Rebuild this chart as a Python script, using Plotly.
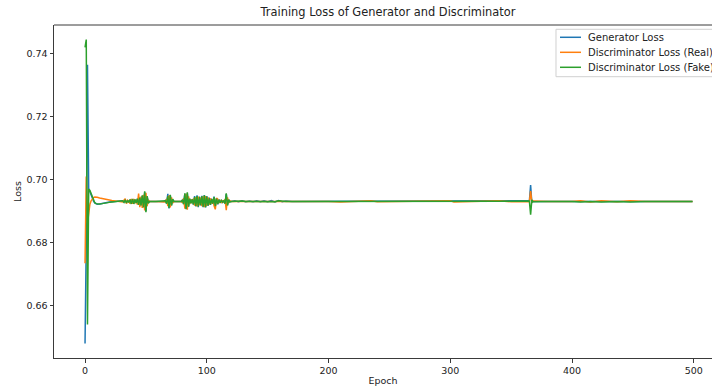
import plotly.graph_objects as go

# ---------------- data ----------------
# segment 1: warm-up (epochs 0-28)
epochs_warm = [0, 1, 2, 3, 4, 5, 6, 7, 8, 9, 10, 12, 14, 16, 18, 20, 22, 25, 28]
gen_warm = [0.6480, 0.6800, 0.7365, 0.6968, 0.6962, 0.6950, 0.6940, 0.6932, 0.6926, 0.6923,
            0.6922, 0.6923, 0.6925, 0.6927, 0.6928, 0.6929, 0.6930, 0.6931, 0.6931]
real_warm = [0.6735, 0.7010, 0.6862, 0.6900, 0.6922, 0.6933, 0.6940, 0.6943, 0.6945, 0.6945,
             0.6944, 0.6942, 0.6940, 0.6938, 0.6936, 0.6935, 0.6934, 0.6932, 0.6931]
fake_warm = [0.7420, 0.7445, 0.6540, 0.6970, 0.6966, 0.6955, 0.6942, 0.6933, 0.6927, 0.6924,
             0.6923, 0.6923, 0.6924, 0.6926, 0.6927, 0.6928, 0.6929, 0.6930, 0.6931]

# segment 2: first oscillation burst (epochs 30-53)
epochs_burst1 = list(range(30, 54))
gen_burst1 = [0.6931, 0.6933, 0.6929, 0.6935, 0.6927, 0.6933, 0.6929, 0.6936, 0.6925, 0.6938,
              0.6924, 0.6936, 0.6927, 0.6939, 0.6922, 0.6942, 0.6920, 0.6948, 0.6914, 0.6960,
              0.6900, 0.6946, 0.6927, 0.6931]
real_burst1 = [0.6931, 0.6929, 0.6935, 0.6940, 0.6924, 0.6934, 0.6930, 0.6924, 0.6939, 0.6923,
               0.6939, 0.6925, 0.6936, 0.6921, 0.6956, 0.6913, 0.6946, 0.6910, 0.6952, 0.6902,
               0.6958, 0.6916, 0.6936, 0.6931]
fake_burst1 = [0.6931, 0.6933, 0.6928, 0.6936, 0.6926, 0.6934, 0.6928, 0.6937, 0.6923, 0.6939,
               0.6923, 0.6937, 0.6926, 0.6940, 0.6920, 0.6943, 0.6918, 0.6950, 0.6912, 0.6963,
               0.6897, 0.6948, 0.6925, 0.6931]

# segment 3: second burst (epochs 58-76)
epochs_burst2 = [58, 62, 65, 66, 67, 68, 69, 70, 71, 72, 73, 76]
gen_burst2 = [0.6931, 0.6931, 0.6931, 0.6934, 0.6925, 0.6955, 0.6909, 0.6950, 0.6919, 0.6937, 0.6931, 0.6931]
real_burst2 = [0.6931, 0.6931, 0.6931, 0.6929, 0.6939, 0.6916, 0.6950, 0.6912, 0.6944, 0.6926, 0.6931, 0.6931]
fake_burst2 = [0.6931, 0.6931, 0.6931, 0.6933, 0.6924, 0.6948, 0.6910, 0.6952, 0.6918, 0.6938, 0.6931, 0.6931]

# segment 4: dense oscillations (epochs 79-120)
epochs_burst3 = list(range(79, 121))
gen_burst3 = [0.6931, 0.6935, 0.6924, 0.6955, 0.6908, 0.6957, 0.6916, 0.6939, 0.6926, 0.6938,
              0.6921, 0.6948, 0.6915, 0.6950, 0.6913, 0.6946, 0.6918, 0.6949, 0.6913, 0.6951,
              0.6912, 0.6948, 0.6917, 0.6943, 0.6920, 0.6940, 0.6923, 0.6946, 0.6915, 0.6941,
              0.6922, 0.6937, 0.6926, 0.6935, 0.6928, 0.6934, 0.6925, 0.6954, 0.6920, 0.6936,
              0.6930, 0.6931]
real_burst3 = [0.6931, 0.6927, 0.6941, 0.6908, 0.6955, 0.6905, 0.6947, 0.6923, 0.6937, 0.6926,
               0.6940, 0.6918, 0.6944, 0.6915, 0.6946, 0.6919, 0.6943, 0.6916, 0.6947, 0.6913,
               0.6948, 0.6917, 0.6944, 0.6921, 0.6941, 0.6924, 0.6938, 0.6917, 0.6906, 0.6942,
               0.6938, 0.6926, 0.6935, 0.6928, 0.6933, 0.6929, 0.6938, 0.6903, 0.6944, 0.6926,
               0.6933, 0.6931]
fake_burst3 = [0.6931, 0.6936, 0.6922, 0.6957, 0.6906, 0.6960, 0.6914, 0.6940, 0.6925, 0.6937,
               0.6922, 0.6945, 0.6917, 0.6948, 0.6915, 0.6944, 0.6919, 0.6947, 0.6914, 0.6950,
               0.6913, 0.6946, 0.6918, 0.6941, 0.6921, 0.6938, 0.6924, 0.6945, 0.6916, 0.6940,
               0.6923, 0.6936, 0.6927, 0.6934, 0.6929, 0.6933, 0.6924, 0.6957, 0.6918, 0.6937,
               0.6929, 0.6931]

# segment 5: small ripples (epochs 123-170)
epochs_ripple = [123, 126, 129, 132, 135, 138, 141, 144, 147, 150, 153, 156, 159, 162, 165, 170]
gen_ripple = [0.6933, 0.6930, 0.6933, 0.6930, 0.6932, 0.6930, 0.6933, 0.6930, 0.6933, 0.6930,
              0.6934, 0.6929, 0.6934, 0.6930, 0.6932, 0.6931]
real_ripple = [0.6931, 0.6930, 0.6931, 0.6931, 0.6930, 0.6931, 0.6931, 0.6930, 0.6931, 0.6931,
               0.6930, 0.6932, 0.6930, 0.6931, 0.6931, 0.6931]
fake_ripple = [0.6932, 0.6931, 0.6932, 0.6931, 0.6931, 0.6931, 0.6932, 0.6931, 0.6932, 0.6931,
               0.6932, 0.6930, 0.6933, 0.6931, 0.6931, 0.6931]

# segment 6: late plateau with a spike at epoch 366 (epochs 200-499)
epochs_late = [200, 210, 235, 240, 255, 270, 280, 300, 303, 315, 325, 340, 350, 360, 364,
               365, 366, 367, 368, 372, 380, 400, 407, 415, 424, 437, 448, 460, 470, 499]
gen_late = [0.6931, 0.6931, 0.6931, 0.6931, 0.6931, 0.6931, 0.6931, 0.6931, 0.6931, 0.6931,
            0.6931, 0.6931, 0.6931, 0.6931, 0.6931, 0.6933, 0.6983, 0.6927, 0.6931, 0.6931,
            0.6931, 0.6931, 0.6931, 0.6931, 0.6931, 0.6931, 0.6931, 0.6931, 0.6931, 0.6931]
real_late = [0.6931, 0.6929, 0.6933, 0.6930, 0.6931, 0.6931, 0.6931, 0.6933, 0.6929, 0.6931,
             0.6931, 0.6933, 0.6930, 0.6931, 0.6931, 0.6930, 0.6964, 0.6929, 0.6932, 0.6931,
             0.6931, 0.6931, 0.6933, 0.6929, 0.6933, 0.6930, 0.6933, 0.6931, 0.6931, 0.6931]
fake_late = [0.6931, 0.6931, 0.6931, 0.6932, 0.6931, 0.6931, 0.6931, 0.6931, 0.6933, 0.6931,
             0.6931, 0.6931, 0.6931, 0.6931, 0.6931, 0.6932, 0.6889, 0.6936, 0.6930, 0.6931,
             0.6931, 0.6931, 0.6929, 0.6931, 0.6929, 0.6931, 0.6929, 0.6931, 0.6931, 0.6931]

epochs = epochs_warm + epochs_burst1 + epochs_burst2 + epochs_burst3 + epochs_ripple + epochs_late
gen_loss = gen_warm + gen_burst1 + gen_burst2 + gen_burst3 + gen_ripple + gen_late
disc_real_loss = real_warm + real_burst1 + real_burst2 + real_burst3 + real_ripple + real_late
disc_fake_loss = fake_warm + fake_burst1 + fake_burst2 + fake_burst3 + fake_ripple + fake_late

series_names = ["Generator Loss", "Discriminator Loss (Real)", "Discriminator Loss (Fake)"]
series_colors = ["#1f77b4", "#ff7f0e", "#2ca02c"]
x_ticks = [0, 100, 200, 300, 400, 500]
y_ticks = [0.66, 0.68, 0.70, 0.72, 0.74]

# ---------------- figure ----------------
FONT = "DejaVu Sans"
AXIS_COLOR = "#3a3a3a"
TEXT_COLOR = "#222222"

fig = go.Figure()
for name, color, ys in zip(series_names, series_colors, [gen_loss, disc_real_loss, disc_fake_loss]):
    fig.add_trace(go.Scatter(x=epochs, y=ys, mode="lines", name=name, showlegend=False,
                             line=dict(color=color, width=1.5)))

# legend drawn in matplotlib style (paper coordinates of the legend box)
leg_box = dict(x0=0.7629, x1=1.05, y0=0.8447, y1=0.9871)
leg_rows = [0.9631, 0.9180, 0.8730]
leg_line_x = (0.7690, 0.8009)
leg_text_x = 0.8085

shapes = [
    dict(type="line", xref="paper", yref="paper", x0=0, x1=1, y0=1, y1=1,
         line=dict(color=AXIS_COLOR, width=1)),
    dict(type="rect", xref="paper", yref="paper", layer="above",
         fillcolor="rgba(255,255,255,0.85)", line=dict(color="#d0d0d0", width=1), **leg_box),
]
annotations = []
for name, color, yrow in zip(series_names, series_colors, leg_rows):
    shapes.append(dict(type="line", xref="paper", yref="paper", layer="above",
                       x0=leg_line_x[0], x1=leg_line_x[1], y0=yrow, y1=yrow,
                       line=dict(color=color, width=1.5)))
    annotations.append(dict(text=name, xref="paper", yref="paper", x=leg_text_x, y=yrow,
                            xanchor="left", yanchor="middle", showarrow=False,
                            font=dict(family=FONT, size=10, color=TEXT_COLOR)))

fig.update_layout(
    width=712, height=389,
    margin=dict(l=54, r=0, t=25, b=31),
    paper_bgcolor="white", plot_bgcolor="white",
    font=dict(family=FONT, size=9.5, color=TEXT_COLOR),
    title=dict(text="Training Loss of Generator and Discriminator",
               font=dict(family=FONT, size=11.4, color=TEXT_COLOR),
               xref="paper", x=0.5076, xanchor="center",
               yref="container", y=0.969, yanchor="middle"),
    showlegend=False,
    shapes=shapes,
    annotations=annotations,
)

fig.update_xaxes(range=[-25.5, 515], tickvals=x_ticks, ticktext=[str(v) for v in x_ticks],
                 automargin=False,
                 showgrid=False, zeroline=False, showline=True, linecolor=AXIS_COLOR, linewidth=1,
                 ticks="outside", ticklen=3.5, tickwidth=1, tickcolor=AXIS_COLOR,
                 tickfont=dict(family=FONT, size=9.5, color=TEXT_COLOR),
                 title=dict(text="Epoch", standoff=2, font=dict(family=FONT, size=9.5, color=TEXT_COLOR)))
fig.update_yaxes(range=[0.6434, 0.7491], tickvals=y_ticks, ticktext=[f"{v:.2f}" for v in y_ticks],
                 automargin=False,
                 showgrid=False, zeroline=False, showline=True, linecolor=AXIS_COLOR, linewidth=1,
                 ticks="outside", ticklen=3.5, tickwidth=1, tickcolor=AXIS_COLOR,
                 tickfont=dict(family=FONT, size=9.5, color=TEXT_COLOR),
                 title=dict(text="Loss", standoff=3, font=dict(family=FONT, size=9.5, color=TEXT_COLOR)))

fig.write_html("out.html", config={"displayModeBar": False},
               post_script="document.body.style.margin='0';document.body.style.overflow='hidden';")
